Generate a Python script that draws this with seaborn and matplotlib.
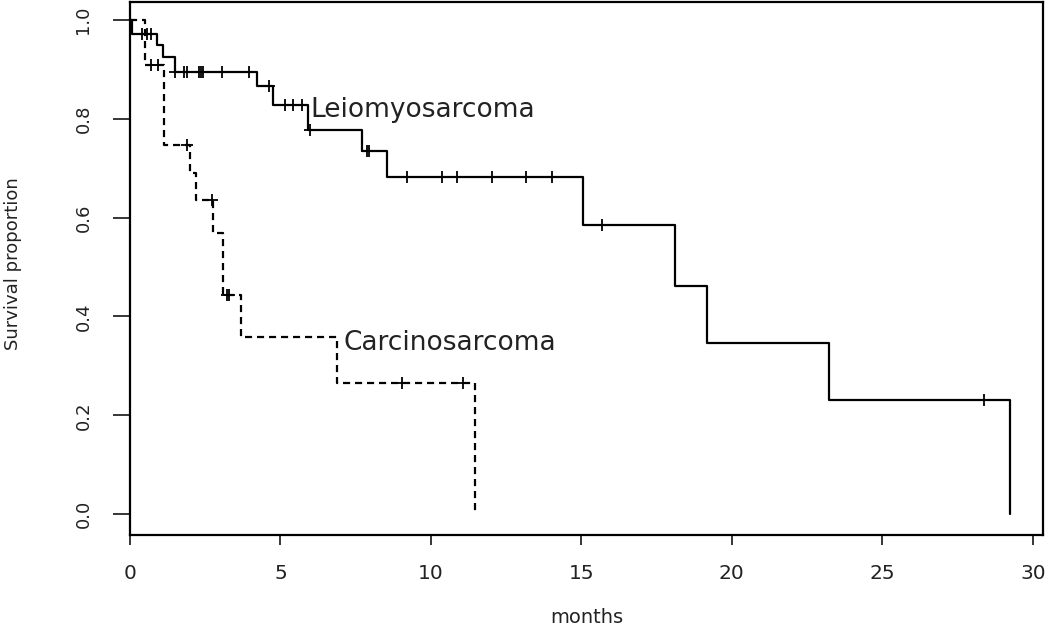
import numpy as np
import pandas as pd
import seaborn as sns
import matplotlib
matplotlib.use("Agg")
import matplotlib.pyplot as plt

# Kaplan-Meier steps
leio_time = [0, 0.05, 0.89, 1.11, 1.50, 4.21, 4.76, 5.93, 7.70, 8.53, 15.06, 18.11, 19.19, 23.23, 29.24]
leio_surv = [1.0, 0.971, 0.949, 0.924, 0.895, 0.866, 0.828, 0.777, 0.734, 0.682, 0.585, 0.462, 0.347, 0.231, 0.0]
leio_censored = [0.39, 0.55, 0.69, 1.50, 1.79, 1.88, 2.29, 2.36, 2.43, 3.05, 3.96, 4.63,
                 5.15, 5.43, 5.71, 5.98, 7.88, 7.94, 9.20, 10.36, 10.86, 12.02, 13.16, 14.01,
                 15.68, 28.39]

carc_time = [0, 0.50, 1.13, 1.99, 2.20, 2.77, 3.10, 3.69, 6.87, 11.47]
carc_surv = [1.0, 0.909, 0.747, 0.690, 0.636, 0.568, 0.444, 0.358, 0.266, 0.0]
carc_censored = [0.70, 0.92, 1.90, 2.73, 3.22, 3.30, 9.03, 11.08]

x_ticks = [0, 5, 10, 15, 20, 25, 30]
y_ticks = [0.0, 0.2, 0.4, 0.6, 0.8, 1.0]


def surv_at(times, surv, t):
    # value of the step curve at time t
    idx = np.searchsorted(times, t, side="right") - 1
    return [surv[i] for i in idx]


leio = pd.DataFrame({"months": leio_time, "surv": leio_surv})
carc = pd.DataFrame({"months": carc_time, "surv": carc_surv})
leio_c = pd.DataFrame({"months": leio_censored,
                       "surv": surv_at(leio_time, leio_surv, leio_censored)})
carc_c = pd.DataFrame({"months": carc_censored,
                       "surv": surv_at(carc_time, carc_surv, carc_censored)})

sns.set_theme(style="white")
plt.rcParams["font.family"] = ["DejaVu Sans"]

fig = plt.figure(figsize=(10.5, 6.28), dpi=100)
ax = fig.add_axes([130 / 1050, 1 - 535 / 628, 913 / 1050, 533 / 628])

sns.lineplot(data=leio, x="months", y="surv", ax=ax, estimator=None, sort=False,
             drawstyle="steps-post", color="black", linewidth=1.6)
sns.lineplot(data=carc, x="months", y="surv", ax=ax, estimator=None, sort=False,
             drawstyle="steps-post", color="black", linewidth=1.6,
             linestyle=(0, (3.2, 2.2)))
sns.scatterplot(data=leio_c, x="months", y="surv", ax=ax, marker="+", s=75,
                color="black", linewidth=1.3)
sns.scatterplot(data=carc_c, x="months", y="surv", ax=ax, marker="+", s=75,
                color="black", linewidth=1.3)

ax.text(6.0, 0.818, "Leiomyosarcoma", ha="left", va="center", fontsize=19, color="#222222")
ax.text(7.1, 0.346, "Carcinosarcoma", ha="left", va="center", fontsize=19, color="#222222")

ax.set_xlim(0, 30.34)
ax.set_ylim(-0.042, 1.036)
ax.set_xticks(x_ticks)
ax.set_xticklabels([str(v) for v in x_ticks], fontsize=14.5, color="#222222")
ax.set_yticks(y_ticks)
ax.set_yticklabels([f"{v:.1f}" for v in y_ticks], fontsize=13, color="#222222",
                   rotation=90, va="center")
ax.tick_params(axis="x", direction="out", length=7.2, width=1.3, pad=14, bottom=True)
ax.tick_params(axis="y", direction="out", length=12, width=1.3, pad=15, left=True)

ax.set_xlabel("months", fontsize=14, color="#222222")
ax.set_ylabel("Survival proportion", fontsize=13, color="#222222", va="center")
ax.xaxis.set_label_coords(0.5, -0.137)
ax.yaxis.set_label_coords(-0.128, 0.51)

for side in ["left", "right", "top", "bottom"]:
    ax.spines[side].set_visible(True)
    ax.spines[side].set_color("black")
    ax.spines[side].set_linewidth(1.6)

fig.savefig("out.png", dpi=100, facecolor="white")
